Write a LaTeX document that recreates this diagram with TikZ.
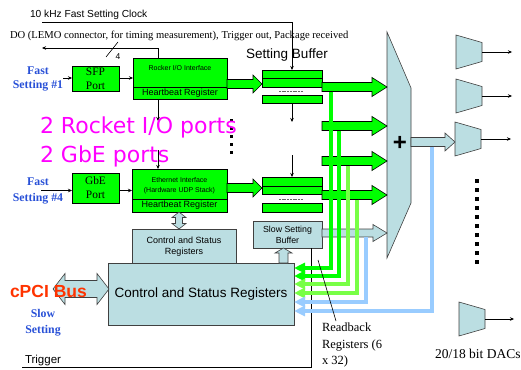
\documentclass[tikz,border=0pt]{standalone}
\usepackage{fontspec}
\setmainfont{Liberation Serif}
\setsansfont{Liberation Sans}
\newfontfamily\pinkfont{DejaVu Sans}
\usetikzlibrary{arrows.meta}
\definecolor{lb}{RGB}{187,222,226}
\definecolor{gr}{RGB}{0,255,0}
\definecolor{lgr}{RGB}{120,255,70}
\definecolor{sky}{RGB}{153,204,255}
\definecolor{fblue}{RGB}{40,80,215}
\definecolor{pinkc}{RGB}{255,0,255}
\definecolor{cpcic}{RGB}{255,51,0}
\newcommand{\myblkarrow}[7]{%
  \filldraw[#1] (#2,#4-#5) -- (#3-#7,#4-#5) -- (#3-#7,#4-#6) -- (#3,#4) -- (#3-#7,#4+#6) -- (#3-#7,#4+#5) -- (#2,#4+#5) -- cycle;}
\newcommand{\mydac}[4]{%
  \filldraw[barrow] (#2,#3) -- (#2+26,#3+7.5) -- (#2+26,#3+26.5) -- (#2,#3+34) -- cycle;
  \coordinate (#1) at (#2+26,#3+17);
  \draw[thinl,tip] (#1) -- ++(#4,0);}
\begin{document}
\begin{tikzpicture}[x=1pt,y=-1pt,
  gbox/.style={draw=black,fill=gr,line width=0.7pt,inner sep=0,outer sep=0,anchor=north west,align=center},
  bbox/.style={draw=black!75,fill=lb,line width=0.6pt,inner sep=0,outer sep=0,anchor=north west,align=center},
  thinl/.style={line width=0.6pt},
  tip/.style={-{Stealth[length=4pt,width=3.5pt]}},
  garrow/.style={draw=black,fill=gr,line width=0.6pt},
  barrow/.style={draw=black!75,fill=lb,line width=0.6pt},
  bus/.style={line width=4.2pt,-{Triangle[length=11pt,width=10pt]}},
  lbl/.style={inner sep=0,outer sep=0}
  ]
\useasboundingbox (0,0) rectangle (521,369);

% top labels and lines
\node[lbl,font=\sffamily\fontsize{10.2}{12}\selectfont,anchor=west] (clklbl) at (30,14.5) {10 kHz Fast Setting Clock};
\node[lbl,font=\fontsize{10.6}{12}\selectfont,anchor=west] (dolbl) at (10,36) {DO (LEMO connector, for timing measurement), Trigger out, Package received};
\node[lbl,font=\sffamily\fontsize{13.5}{14}\selectfont] (sblbl) at (287,55) {Setting Buffer};

% green boxes
\node[gbox,minimum width=47pt,minimum height=25pt,font=\fontsize{11.4}{14}\selectfont] (sfp) at (72,66) {SFP\\Port};
\node[gbox,minimum width=94pt,minimum height=29pt] (rocktop) at (133,58) {};
\node[lbl,font=\sffamily\fontsize{7}{8}\selectfont] (rocklbl) at (180,68) {Rocker I/O Interface};
\node[gbox,minimum width=94pt,minimum height=12pt,font=\sffamily\fontsize{9}{10}\selectfont] (rockhb) at (133,87) {Heartbeat Register};

\node[gbox,minimum width=47pt,minimum height=30pt,font=\fontsize{11.4}{14}\selectfont] (gbe) at (72,173) {GbE\\Port};
\node[gbox,minimum width=95pt,minimum height=30pt] (ethtop) at (132,169) {};
\node[lbl,font=\sffamily\fontsize{7}{10}\selectfont,align=center] (ethlbl) at (179.5,186) {Ethernet Interface\\(Hardware UDP Stack)};
\node[gbox,minimum width=95pt,minimum height=13pt,font=\sffamily\fontsize{9}{10}\selectfont] (ethhb) at (132,199) {Heartbeat Register};

\node[gbox,minimum width=60pt,minimum height=8pt] (sb1a) at (262,70) {};
\node[gbox,minimum width=60pt,minimum height=9pt] (sb1b) at (262,78) {};
\node[gbox,minimum width=60pt,minimum height=8pt] (sb1c) at (262,95) {};
\node[gbox,minimum width=60pt,minimum height=9pt] (sb2a) at (262,177) {};
\node[gbox,minimum width=60pt,minimum height=8pt] (sb2b) at (262,186) {};
\node[gbox,minimum width=60pt,minimum height=9pt] (sb2c) at (262,203) {};
\draw[line width=0.5pt,black!60,dash pattern=on 2pt off 0.7pt] (279,91) -- (303,91);
\draw[line width=0.5pt,black!60,dash pattern=on 2pt off 0.7pt] (279,199) -- (303,199);

% light blue boxes
\node[bbox,minimum width=104pt,minimum height=35pt,font=\sffamily\fontsize{9}{11}\selectfont] (csrs) at (132,229) {Control and Status\\Registers};
\node[bbox,minimum width=186pt,minimum height=62pt,font=\sffamily\fontsize{13.5}{15}\selectfont] (csrb) at (108,263) {Control and Status Registers};
\node[bbox,minimum width=69pt,minimum height=27pt,font=\sffamily\fontsize{8.8}{11}\selectfont] (ssb) at (253,221) {Slow Setting\\Buffer};

% multiplexer
\filldraw[barrow] (387,32) -- (411,88) -- (411,203) -- (387,258) -- cycle;
\node[lbl,font=\sffamily\bfseries\fontsize{24}{24}\selectfont] (plus) at (400,143) {+};

% DACs
\mydac{dac1}{456}{35}{30}
\mydac{dac2}{456}{79}{30}
\mydac{dac3}{455}{122}{30}
\mydac{dac4}{459}{302}{29}

% thin connectors
\coordinate (fs1in) at (63,78);
\coordinate (fs4in) at (41,190.5);
\coordinate (clk) at (42,22);
\coordinate (do) at (42,48);
\draw[thinl,tip] (fs1in) -- (sfp.west |- fs1in);
\draw[thinl,tip] (sfp.east |- fs1in) -- (rocktop.west |- fs1in);
\draw[thinl,tip] (fs4in) -- (gbe.west |- fs4in);
\draw[thinl,tip] (gbe.east |- fs4in) -- (ethtop.west |- fs4in);
\draw[thinl,tip] (clk) -| (sb1a.north);
\draw[thinl,tip] (158,58) |- (do);
\draw[thinl] (106,57) -- (118,42);
\node[lbl,font=\sffamily\fontsize{8.5}{10}\selectfont] (four) at (118,57) {4};
\draw[thinl,tip] (158,99) -- (158,121);
\draw[thinl,tip] (158,150) -- (158,169);
\draw[thinl,tip] (sb1c.south) -- ++(0,19);
\draw[thinl,tip] (292,155) -- (sb2a.north);
\draw[thinl] (22,367) -| (311,248);

% dotted ellipses
\draw[line width=3pt,dash pattern=on 3pt off 5pt] (231,119) -- (231,156);
\draw[line width=3.5pt,dash pattern=on 3.5pt off 5.5pt] (477,179) -- (477,265);

% block arrows
\myblkarrow{garrow}{227}{262}{84}{4.5}{9}{9}
\myblkarrow{garrow}{227}{262}{188}{4.5}{9}{9}
\myblkarrow{garrow}{322}{387}{87}{4.5}{9.5}{15}
\myblkarrow{garrow}{322}{387}{126}{4.5}{9.5}{15}
\myblkarrow{garrow}{322}{387}{161}{4.5}{9.5}{15}
\myblkarrow{garrow}{322}{387}{195}{4.5}{9.5}{15}
\myblkarrow{barrow}{322}{387}{233}{4}{8.5}{14}
\myblkarrow{barrow}{411}{455}{142}{4.5}{9}{10}

% hollow arrows
\filldraw[barrow] (179,212) -- (186,217.5) -- (182.5,217.5) -- (182.5,223.5) -- (186,223.5) -- (179,229) -- (172,223.5) -- (175.5,223.5) -- (175.5,217.5) -- (172,217.5) -- cycle;
\filldraw[barrow] (283.5,248) -- (292,253) -- (288,253) -- (288,263) -- (279,263) -- (279,253) -- (275,253) -- cycle;
\filldraw[barrow] (53,289) -- (65,273.5) -- (65,280.5) -- (97,280.5) -- (97,273.5) -- (109,289) -- (97,304.5) -- (97,297.5) -- (65,297.5) -- (65,304.5) -- cycle;

% readback buses
\draw[bus,gr] (331,91.5) |- (csrb.east |- 0,268);
\draw[bus,gr] (339,130.5) |- (csrb.east |- 0,276);
\draw[bus,lgr] (348,165.5) |- (csrb.east |- 0,284);
\draw[bus,lgr] (357,199.5) |- (csrb.east |- 0,293);
\draw[bus,sky] (366,237) |- (csrb.east |- 0,302);
\draw[bus,sky] (432,146.5) |- (csrb.east |- 0,311);

% labels
\node[lbl,font=\bfseries\fontsize{11.8}{14}\selectfont,text=fblue,align=center] (fs1) at (38,79) {Fast\\Setting \#1};
\node[lbl,font=\bfseries\fontsize{11.8}{16}\selectfont,text=fblue,align=center] (fs4) at (38,191) {Fast\\Setting \#4};
\node[lbl,font=\bfseries\fontsize{11.8}{16}\selectfont,text=fblue,align=center] (slow) at (43,323) {Slow\\Setting};
\node[lbl,font=\sffamily\bfseries\fontsize{17.5}{18}\selectfont,text=cpcic,anchor=west] (cpci) at (10,291) {cPCI Bus};
\node[lbl,font=\pinkfont\fontsize{22}{22}\selectfont,text=pinkc,anchor=base west] (p1) at (40,133) {2 Rocket I/O ports};
\node[lbl,font=\pinkfont\fontsize{22}{22}\selectfont,text=pinkc,anchor=base west] (p2) at (40,162) {2 GbE ports};
\node[lbl,font=\sffamily\fontsize{11.5}{12}\selectfont,anchor=west] (trig) at (25,361) {Trigger};
\node[lbl,font=\fontsize{12.5}{16.5}\selectfont,anchor=west,align=left] (rb) at (322,345) {Readback\\Registers (6\\x 32)};
\draw[thinl] (318,260) -- (336,321);
\node[lbl,font=\fontsize{13.5}{14}\selectfont,anchor=west] (daclbl) at (435,354) {20/18 bit DACs};
\end{tikzpicture}
\end{document}
